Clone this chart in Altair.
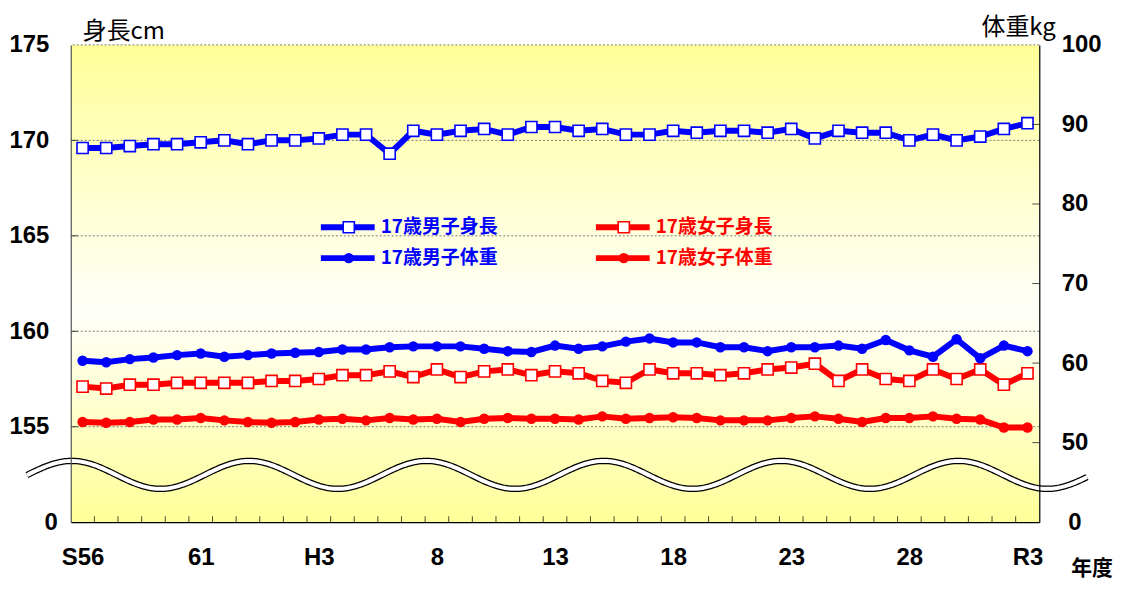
import altair as alt
import pandas as pd
import numpy as np

# ---------------- data ----------------
years = (["S%d" % y for y in range(56, 64)] + ["H%d" % y for y in range(1, 31)]
         + ["R%d" % y for y in range(1, 4)])

boys_height = [169.6, 169.6, 169.7, 169.8, 169.8, 169.9, 170.0, 169.8,
               170.0, 170.0, 170.1, 170.3, 170.3, 169.3, 170.5, 170.3, 170.5, 170.6,
               170.3, 170.7, 170.7, 170.5, 170.6, 170.3, 170.3, 170.5, 170.4, 170.5,
               170.5, 170.4, 170.6, 170.1, 170.5, 170.4, 170.4, 170.0, 170.3, 170.0,
               170.2, 170.6, 170.9]
girls_height = [157.1, 157.0, 157.2, 157.2, 157.3, 157.3, 157.3, 157.3,
                157.4, 157.4, 157.5, 157.7, 157.7, 157.9, 157.6, 158.0, 157.6, 157.9,
                158.0, 157.7, 157.9, 157.8, 157.4, 157.3, 158.0, 157.8, 157.8, 157.7,
                157.8, 158.0, 158.1, 158.3, 157.4, 158.0, 157.5, 157.4, 158.0, 157.5,
                158.0, 157.2, 157.8]
boys_weight = [60.3, 60.1, 60.5, 60.7, 61.0, 61.2, 60.8, 61.0,
               61.2, 61.3, 61.4, 61.7, 61.7, 62.0, 62.1, 62.1, 62.1, 61.8,
               61.5, 61.4, 62.2, 61.8, 62.1, 62.7, 63.1, 62.6, 62.6, 62.0,
               62.0, 61.5, 62.0, 62.0, 62.2, 61.8, 62.9, 61.6, 60.8, 63.0,
               60.6, 62.2, 61.5]
girls_weight = [52.6, 52.5, 52.6, 52.9, 52.9, 53.1, 52.8, 52.6,
                52.5, 52.6, 52.9, 53.0, 52.8, 53.1, 52.9, 53.0, 52.6, 53.0,
                53.1, 53.0, 53.0, 52.9, 53.3, 53.0, 53.1, 53.2, 53.1, 52.8,
                52.8, 52.8, 53.1, 53.3, 53.0, 52.6, 53.1, 53.1, 53.3, 53.0,
                52.9, 51.9, 51.9]

tick_years = ["S56", "S61", "H3", "H8", "H13", "H18", "H23", "H28", "R3"]
tick_texts = ["S56", "61", "H3", "8", "13", "18", "23", "28", "R3"]
height_ticks = [155, 160, 165, 170, 175]
weight_ticks = [50, 60, 70, 80, 90, 100]

series_names = ["17歳男子身長", "17歳女子身長", "17歳男子体重", "17歳女子体重"]
series_colors = ["#0000FF", "#FF0000", "#0000FF", "#FF0000"]

# ---------------- layout ----------------
W, H = 972, 479
NUM_FONT = "Liberation Sans Narrow, Liberation Sans, Arial Narrow, sans-serif"
JP_FONT = "Noto Sans CJK JP"
NUM_SIZE = 24

n = len(years)
idx = list(range(n))
xscale = alt.Scale(domain=[-0.5, n - 0.5], nice=False, zero=False)
hscale = alt.Scale(domain=[150, 175], nice=False, zero=False)
wscale = alt.Scale(domain=[40, 100], nice=False, zero=False)
color_scale = alt.Scale(domain=series_names, range=series_colors)

label_map = {years.index(y): t for y, t in zip(tick_years, tick_texts)}
label_expr = "".join("datum.value==%d?'%s':" % (k, v) for k, v in label_map.items()) + "''"

x_axis = alt.Axis(values=sorted(label_map.keys()), labelExpr=label_expr, ticks=False,
                  grid=False, domainColor="black", domainWidth=1.2, labelPadding=23,
                  labelFont=NUM_FONT, labelFontSize=NUM_SIZE, labelFontWeight="bold",
                  labelColor="black", title=None, labelFlush=False, zindex=1)
left_axis = alt.Axis(values=height_ticks, ticks=False, grid=False,
                     domainColor="#555555", domainWidth=1.2, labelPadding=22,
                     labelFont=NUM_FONT, labelFontSize=NUM_SIZE, labelFontWeight="bold",
                     labelColor="black", title=None, zindex=1)
right_axis = alt.Axis(orient="right", values=weight_ticks, ticks=False, grid=False,
                      domainColor="black", domainWidth=1.2, labelPadding=22,
                      labelAlign="left", labelFont=NUM_FONT, labelFontSize=NUM_SIZE,
                      labelFontWeight="bold", labelColor="black", title=None, zindex=1)

df_h = pd.DataFrame({"i": idx * 2, "year": years * 2,
                     "v": boys_height + girls_height,
                     "s": [series_names[0]] * n + [series_names[1]] * n})
df_w = pd.DataFrame({"i": idx * 2, "year": years * 2,
                     "v": boys_weight + girls_weight,
                     "s": [series_names[2]] * n + [series_names[3]] * n})

one = pd.DataFrame({"a": [0]})

def X(f):
    return alt.X(f, scale=xscale, axis=x_axis)

def YH(f):
    return alt.Y(f, scale=hscale, axis=left_axis)

def YW(f):
    return alt.Y(f, scale=wscale, axis=right_axis)

# ---------------- background & grid ----------------
bg = alt.Gradient(gradient="linear", x1=0, y1=0, x2=0, y2=1,
                  stops=[alt.GradientStop(offset=0, color="#FFFF99"),
                         alt.GradientStop(offset=0.56, color="#FFFFFA"),
                         alt.GradientStop(offset=1, color="#FFFF99")])
background = alt.Chart(one).mark_rect(fill=bg, stroke=None).encode(
    x=alt.value(0), x2=alt.value(W), y=alt.value(0), y2=alt.value(H))
grid = alt.Chart(pd.DataFrame({"v": height_ticks})).mark_rule(
    color="#777777", strokeWidth=1, strokeDash=[2, 2]).encode(y=YH("v:Q"))

# ---------------- break wave (decoration) ----------------
xpx = np.arange(27, 1092, 2.0)
ypx = 475.5 - 14 * np.cos(2 * np.pi * (xpx - 72) / 178)
wave = pd.DataFrame({"wi": (xpx - 71) / (W / n) - 0.5,
                     "wv": 175 - (ypx - 44) / (H / 25.0)})
wave_black = alt.Chart(wave).mark_line(color="black", strokeWidth=6.5).encode(
    x=X("wi:Q"), y=YH("wv:Q"), order="wi:Q")
wave_white = alt.Chart(wave).mark_line(color="white", strokeWidth=4).encode(
    x=X("wi:Q"), y=YH("wv:Q"), order="wi:Q")

# ---------------- height (left axis) ----------------
h_line = alt.Chart(df_h).mark_line(strokeWidth=6).encode(
    x=X("i:Q"), y=YH("v:Q"),
    color=alt.Color("s:N", scale=color_scale, legend=None))
h_pts = alt.Chart(df_h).mark_point(shape="square", filled=True, fill="white",
                                   size=125, strokeWidth=1.6, opacity=1).encode(
    x=X("i:Q"), y=YH("v:Q"),
    stroke=alt.Stroke("s:N", scale=color_scale, legend=None))

x_ticks = alt.Chart(pd.DataFrame({"t": [k + 0.5 for k in range(n - 1)]})).mark_tick(
    orient="vertical", size=6, thickness=1, color="black").encode(
    x=X("t:Q"), y=alt.value(H - 3))
l_ticks = alt.Chart(pd.DataFrame({"v": height_ticks[:-1]})).mark_tick(
    orient="horizontal", size=7, thickness=1, color="black").encode(
    y=YH("v:Q"), x=alt.value(3.5))

def text(t, x, y, size, color="black", align="left", font=JP_FONT, weight="normal"):
    return alt.Chart(one).mark_text(align=align, baseline="middle", fontSize=size,
                                    font=font, fontWeight=weight, color=color).encode(
        x=alt.value(x), y=alt.value(y), text=alt.value(t))

texts = [
    text("身長cm", 12, -13, 24),
    text("体重kg", 914, -17, 24),
    text("年度", 1025, 526, 21, align="center", weight="bold"),
    text("0", -13, 480, NUM_SIZE, align="right", font=NUM_FONT, weight="bold"),
    text("0", 1001, 480, NUM_SIZE, align="left", font=NUM_FONT, weight="bold"),
]

# ---------------- manual legend ----------------
legend_layers = []
leg_pos = [(251, 183), (527, 183), (251, 214), (527, 214)]
for k, (name, col, (lx, ly)) in enumerate(zip(series_names, series_colors, leg_pos)):
    legend_layers.append(alt.Chart(one).mark_rule(color=col, strokeWidth=6).encode(
        x=alt.value(lx), x2=alt.value(lx + 54), y=alt.value(ly)))
    if k < 2:
        legend_layers.append(alt.Chart(one).mark_point(
            shape="square", filled=True, fill="white", stroke=col, strokeWidth=1.6,
            size=125, opacity=1).encode(x=alt.value(lx + 28), y=alt.value(ly)))
    else:
        legend_layers.append(alt.Chart(one).mark_point(
            shape="circle", filled=True, color=col, size=110, opacity=1).encode(
            x=alt.value(lx + 28), y=alt.value(ly)))
    legend_layers.append(text(name, lx + 60, ly, 19, color=col, weight="bold"))

left_group = alt.layer(background, grid, wave_black, wave_white, h_line, h_pts,
                       x_ticks, l_ticks, *legend_layers, *texts)

# ---------------- weight (right axis) ----------------
w_line = alt.Chart(df_w).mark_line(strokeWidth=6).encode(
    x=X("i:Q"), y=YW("v:Q"),
    color=alt.Color("s:N", scale=color_scale, legend=None))
w_pts = alt.Chart(df_w).mark_point(shape="circle", filled=True, size=110,
                                   opacity=1).encode(
    x=X("i:Q"), y=YW("v:Q"),
    color=alt.Color("s:N", scale=color_scale, legend=None))
r_ticks = alt.Chart(pd.DataFrame({"v": weight_ticks[:-1]})).mark_tick(
    orient="horizontal", size=7, thickness=1, color="black").encode(
    y=YW("v:Q"), x=alt.value(W - 3.5))

right_group = alt.layer(w_line, w_pts, r_ticks)

chart = alt.layer(left_group, right_group).resolve_scale(
    y="independent", color="shared"
).properties(
    width=W, height=H,
    autosize=alt.AutoSizeParams(type="none"),
    padding={"left": 63, "top": 36, "right": 78, "bottom": 60},
    background="white",
).configure_view(stroke=None)

chart.save("out.html", embed_options={"renderer": "svg", "actions": False})
